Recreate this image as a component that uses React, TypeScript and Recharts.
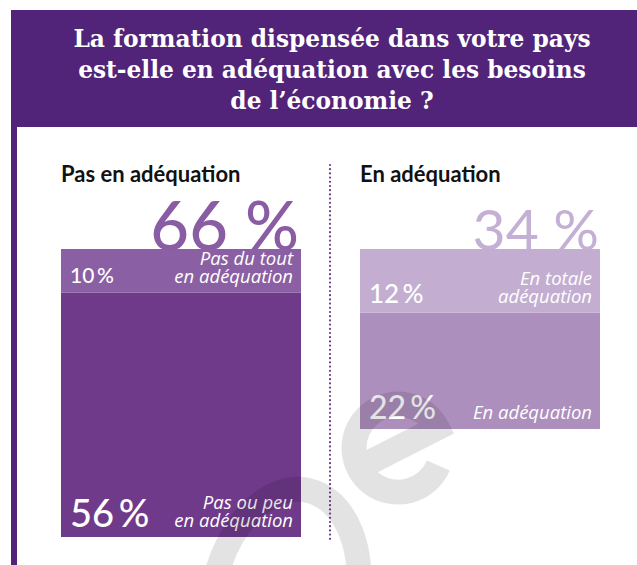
import { BarChart, Bar, XAxis, YAxis, LabelList } from "recharts";

// Panels (categories)
const panels = ["Pas en adéquation", "En adéquation"];
const titleLines = [
  "La formation dispensée dans votre pays",
  "est-elle en adéquation avec les besoins",
  "de l’économie ?",
];

// stacked from bottom to top
const leftValues = [56, 10];
const leftLabels = [["Pas ou peu", "en adéquation"], ["Pas du tout", "en adéquation"]];
const rightValues = [22, 12];
const rightLabels = [["En adéquation"], ["En totale", "adéquation"]];

const leftColors = ["#6f3a8a", "#8b5fa3"];
const rightColors = ["#ad8fbe", "#c3aed1"];

const PURPLE = "#51247a";
const SERIF = "'DejaVu Serif', 'Liberation Serif', serif";
const SANS = "Lato, 'Open Sans', sans-serif";
const ITAL = "'Open Sans', Lato, sans-serif";

const sum = (a: number[]) => a.reduce((s, v) => s + v, 0);

const segLabel = (lines: string[], pctSize: number) => (props: any) => {
  const x = Number(props.x), y = Number(props.y);
  const w = Number(props.width), h = Number(props.height);
  const base = y + h - 10;
  return (
    <g>
      <text x={x + 9} y={base} fill="#fff" fontFamily={SANS} fontWeight={500} fontSize={pctSize}>
        {props.value}{"\u2009"}%
      </text>
      {lines.map((l, i) => (
        <text key={i} x={x + w - 8} y={base - (lines.length - 1 - i) * 18} textAnchor="end"
          fill="#fff" fontFamily={ITAL} fontStyle="italic" fontSize={18.5}>
          {l}
        </text>
      ))}
    </g>
  );
};

function StackPanel({ name, values, labels, colors, height, pctSizes }: any) {
  const row: any = { name };
  values.forEach((v: number, i: number) => (row["s" + i] = v));
  return (
    <BarChart width={240} height={height} data={[row]} margin={{ top: 0, right: 0, bottom: 0, left: 0 }} barCategoryGap={0}>
      <XAxis dataKey="name" hide />
      <YAxis hide domain={[0, sum(values)]} allowDataOverflow />
      {values.map((_: number, i: number) => (
        <Bar key={i} dataKey={"s" + i} stackId="a" fill={colors[i]} isAnimationActive={false}>
          <LabelList dataKey={"s" + i} content={segLabel(labels[i], pctSizes[i])} />
        </Bar>
      ))}
    </BarChart>
  );
}

export default function App() {
  return (
    <div style={{ position: "absolute", left: 0, top: 0, width: 637, height: 565, background: "#fff", overflow: "hidden" }}>
      <svg width={637} height={565} style={{ position: "absolute", left: 0, top: 0 }}>
        <rect x={11} y={10} width={626} height={117} fill={PURPLE} />
        <rect x={11} y={10} width={6} height={555} fill={PURPLE} />
        {titleLines.map((t, i) => (
          <text key={i} x={332} y={47 + i * 31} textAnchor="middle" fill="#fff"
            fontFamily={SERIF} fontWeight="bold" fontSize={23.3}>{t}</text>
        ))}
        <text x={61} y={182} fontFamily={SANS} fontWeight="bold" fontSize={22} fill="#111">{panels[0]}</text>
        <text x={360} y={182} fontFamily={SANS} fontWeight="bold" fontSize={22} fill="#111">{panels[1]}</text>
        <text x={299} y={250} textAnchor="end" fontFamily={SANS} fontWeight={500} fontSize={67} fill="#8a5ca3">
          {sum(leftValues)} %
        </text>
        <text x={599} y={250} textAnchor="end" fontFamily={SANS} fontSize={57} fill="#c4b0d4">
          {sum(rightValues)} %
        </text>
        <line x1={330} y1={165} x2={330} y2={539} stroke="#6f3a8a" strokeWidth={2.2}
          strokeDasharray="0 4.2" strokeLinecap="round" />
      </svg>
      <div style={{ position: "absolute", left: 61, top: 249 }}>
        <StackPanel name={panels[0]} values={leftValues} labels={leftLabels} colors={leftColors} height={288} pctSizes={[38, 21]} />
      </div>
      <div style={{ position: "absolute", left: 360, top: 249 }}>
        <StackPanel name={panels[1]} values={rightValues} labels={rightLabels} colors={rightColors} height={180} pctSizes={[32, 26]} />
      </div>
      {/* watermark */}
      <svg width={637} height={565} style={{ position: "absolute", left: 0, top: 0, pointerEvents: "none" }}>
        <g fill="none" stroke="#000" strokeOpacity={0.11} strokeWidth={25}>
          <ellipse cx={285} cy={598} rx={72} ry={110} transform="rotate(12 285 598)" />
          <path d="M -44 0 L 44 0 A 44 44 0 1 0 28 34" transform="translate(398 448) rotate(-27)" />
        </g>
      </svg>
    </div>
  );
}
